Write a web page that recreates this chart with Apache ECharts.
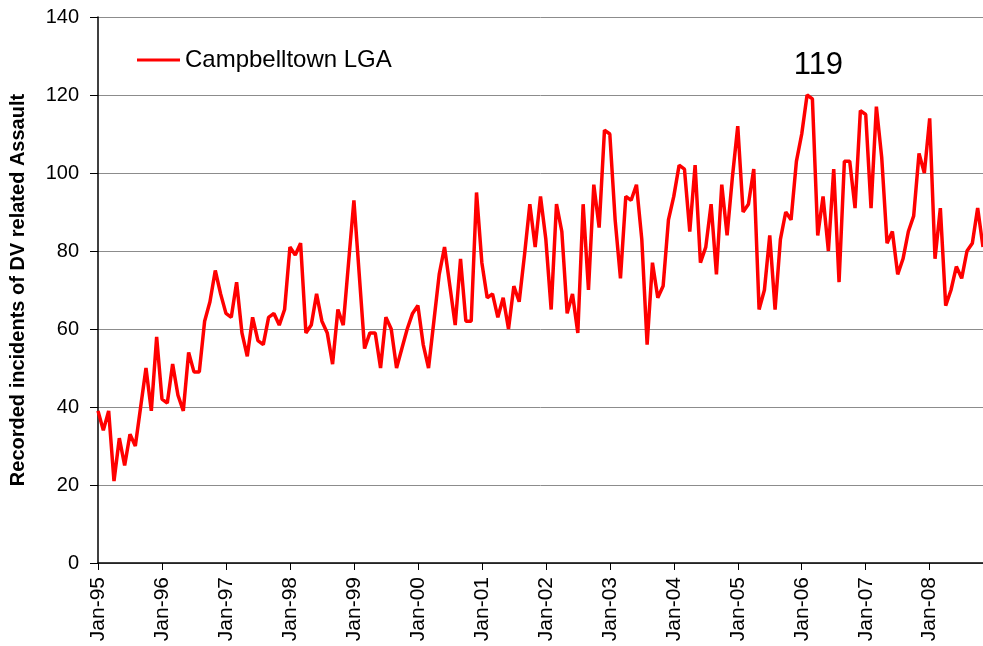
<!DOCTYPE html>
<html>
<head>
<meta charset="utf-8">
<script src="https://cdn.jsdelivr.net/npm/echarts@6/dist/echarts.min.js"></script>
<style>html,body{margin:0;padding:0;background:#fff}#c{width:983px;height:646px}</style>
</head>
<body>
<div id="c"></div>
<script>
const months = ['Jan','Feb','Mar','Apr','May','Jun','Jul','Aug','Sep','Oct','Nov','Dec'];
const years = ['95','96','97','98','99','00','01','02','03','04','05','06','07','08'];
const categories = [];
years.forEach(y => months.forEach(m => categories.push(m + '-' + y)));
categories.length = 167; // Jan-95 .. Nov-08

const values1995 = [39,34,39,21,32,25,33,30,40,50,39,58];
const values1996 = [42,41,51,43,39,54,49,49,62,67,75,69];
const values1997 = [64,63,72,59,53,63,57,56,63,64,61,65];
const values1998 = [81,79,82,59,61,69,62,59,51,65,61,77];
const values1999 = [93,74,55,59,59,50,63,60,50,55,60,64];
const values2000 = [66,56,50,62,74,81,71,61,78,62,62,95];
const values2001 = [77,68,69,63,68,60,71,67,79,92,81,94];
const values2002 = [83,65,92,85,64,69,59,92,70,97,86,111];
const values2003 = [110,88,73,94,93,97,83,56,77,68,71,88];
const values2004 = [94,102,101,85,102,77,81,92,74,97,84,99];
const values2005 = [112,90,92,101,65,70,84,65,83,90,88,103];
const values2006 = [110,120,119,84,94,80,101,72,103,103,91,116];
const values2007 = [115,91,117,104,82,85,74,78,85,89,105,100];
const values2008 = [114,78,91,66,70,76,73,80,82,91,81];
const values = [].concat(values1995,values1996,values1997,values1998,values1999,values2000,values2001,values2002,values2003,values2004,values2005,values2006,values2007,values2008);

const peakLabel = { category: 'Mar-06', value: 119, text: '119' };
const seriesName = 'Campbelltown LGA';
const yTitle = 'Recorded incidents of DV related Assault';

const font = 'Liberation Sans, Arial, sans-serif';
const chart = echarts.init(document.getElementById('c'), null, {renderer: 'canvas'});
chart.setOption({
  animation: false,
  backgroundColor: '#ffffff',
  grid: {left: 98, right: 0, top: 17, bottom: 83, containLabel: false},
  legend: {
    show: true, left: 132, top: 43, itemWidth: 43, itemHeight: 3, itemGap: 10,
    icon: 'rect',
    textStyle: {fontFamily: font, fontSize: 24, color: '#000', lineHeight: 24},
    data: [{name: seriesName, itemStyle: {color: '#ff0000'}}]
  },
  xAxis: {
    type: 'category', data: categories, boundaryGap: false,
    axisLine: {lineStyle: {color: '#000', width: 1.5}},
    axisTick: {show: true, interval: 11, length: 7, lineStyle: {color: '#000', width: 1}},
    axisLabel: {interval: 11, rotate: 90, margin: 14, fontFamily: font, fontSize: 21, color: '#000'},
    splitLine: {show: false}
  },
  yAxis: {
    type: 'value', min: 0, max: 140, interval: 20,
    name: yTitle, nameLocation: 'middle', nameGap: 70,
    nameTextStyle: {fontFamily: font, fontSize: 20, fontWeight: 'bold', color: '#000'},
    axisLine: {show: true, lineStyle: {color: '#000', width: 1.5}},
    axisTick: {show: true, length: 8, lineStyle: {color: '#000'}},
    axisLabel: {margin: 19, fontFamily: font, fontSize: 20, color: '#000'},
    splitLine: {show: true, lineStyle: {color: '#8c8c8c', width: 1}}
  },
  series: [{
    name: seriesName, type: 'line', data: values, symbol: 'none',
    lineStyle: {color: '#ff0000', width: 3.5}, itemStyle: {color: '#ff0000'},
    markPoint: {
      symbol: 'circle', symbolSize: 0,
      label: {show: true, position: 'top', distance: 18, offset: [6, 0], formatter: peakLabel.text,
               fontFamily: font, fontSize: 31, color: '#000'},
      data: [{coord: [peakLabel.category, peakLabel.value]}]
    }
  }]
});
</script>
</body>
</html>
